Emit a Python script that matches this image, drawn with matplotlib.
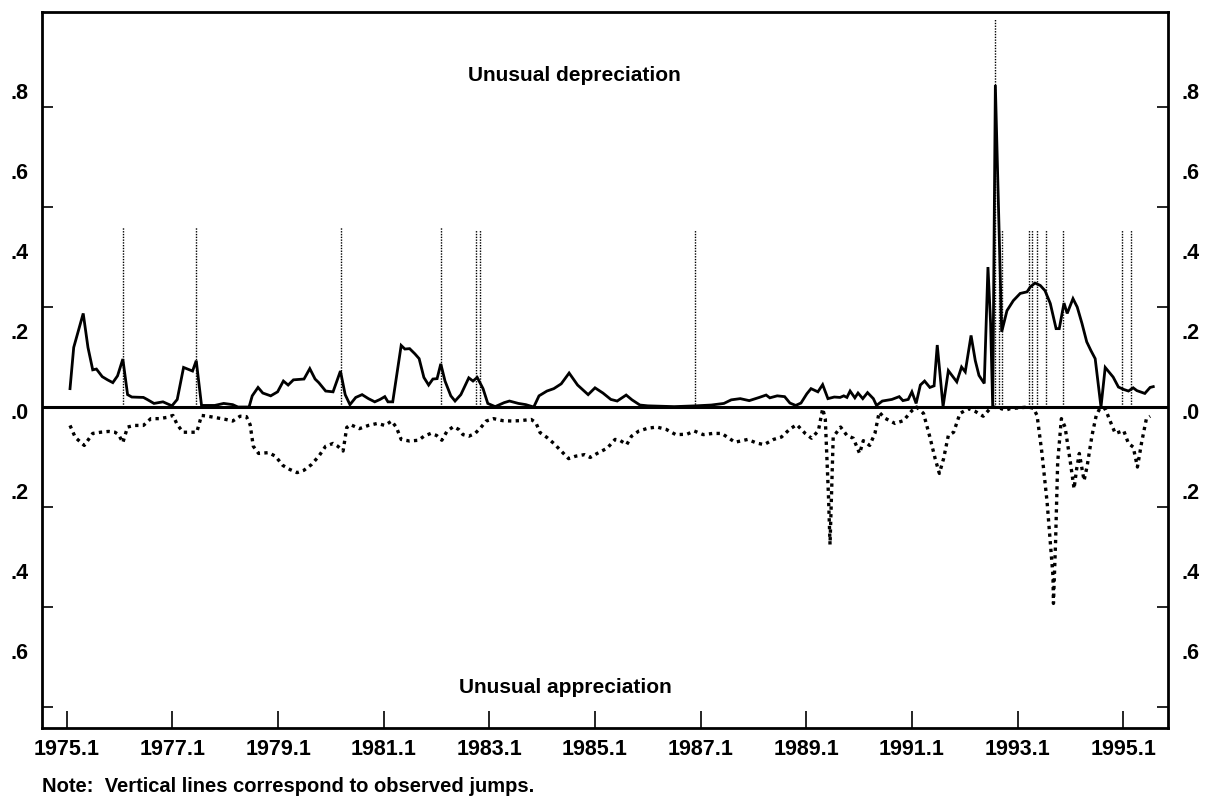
import numpy as np
import matplotlib
matplotlib.use("Agg")
import matplotlib.pyplot as plt
from matplotlib.transforms import ScaledTranslation

plt.rcParams['font.family'] = ['Liberation Sans', 'DejaVu Sans']

# probability of unusual depreciation (solid), decimal year / value
dep_t = [1975.06, 1975.13, 1975.31, 1975.40, 1975.49, 1975.56, 1975.67, 1975.77, 1975.87, 1975.96,
         1976.06, 1976.15, 1976.23, 1976.45, 1976.52, 1976.65, 1976.82, 1976.99, 1977.09, 1977.21,
         1977.38, 1977.45, 1977.55, 1977.80, 1977.97, 1978.14, 1978.24, 1978.45, 1978.51, 1978.62,
         1978.71, 1978.86, 1978.99, 1979.10, 1979.19, 1979.29, 1979.49, 1979.60, 1979.70, 1979.77,
         1979.90, 1980.04, 1980.18, 1980.27, 1980.36, 1980.47, 1980.59, 1980.71, 1980.83, 1980.93,
         1981.02, 1981.08, 1981.17, 1981.33, 1981.40, 1981.49, 1981.59, 1981.67, 1981.76, 1981.85,
         1981.93, 1982.01, 1982.08, 1982.16, 1982.27, 1982.35, 1982.46, 1982.61, 1982.69, 1982.77,
         1982.88, 1982.97, 1983.11, 1983.28, 1983.38, 1983.55, 1983.69, 1983.84, 1983.94, 1984.09,
         1984.22, 1984.36, 1984.51, 1984.67, 1984.87, 1985.00, 1985.15, 1985.30, 1985.42, 1985.59,
         1985.70, 1985.85, 1986.00, 1986.50, 1986.91, 1987.20, 1987.44, 1987.58, 1987.75, 1987.92,
         1988.11, 1988.24, 1988.31, 1988.45, 1988.59, 1988.69, 1988.80, 1988.90, 1989.01, 1989.09,
         1989.22, 1989.31, 1989.41, 1989.53, 1989.64, 1989.71, 1989.77, 1989.83, 1989.92, 1989.98,
         1990.07, 1990.16, 1990.27, 1990.33, 1990.44, 1990.62, 1990.76, 1990.83, 1990.93, 1991.00,
         1991.08, 1991.16, 1991.24, 1991.34, 1991.42, 1991.48, 1991.59, 1991.69, 1991.78, 1991.85,
         1991.94, 1992.01, 1992.12, 1992.20, 1992.27, 1992.37, 1992.44, 1992.49, 1992.53, 1992.58,
         1992.70, 1992.80, 1992.92, 1993.05, 1993.18, 1993.24, 1993.33, 1993.43, 1993.52, 1993.62,
         1993.73, 1993.79, 1993.88, 1993.94, 1994.05, 1994.13, 1994.22, 1994.31, 1994.39, 1994.47,
         1994.58, 1994.66, 1994.81, 1994.91, 1995.01, 1995.10, 1995.19, 1995.26, 1995.41, 1995.51,
         1995.57]
dep_v = [0.046, 0.149, 0.234, 0.149, 0.093, 0.095, 0.076, 0.068, 0.061, 0.078,
         0.120, 0.031, 0.025, 0.024, 0.019, 0.009, 0.013, 0.003, 0.019, 0.099,
         0.090, 0.116, 0.004, 0.004, 0.009, 0.006, 0.0, 0.0, 0.028, 0.049,
         0.035, 0.028, 0.038, 0.065, 0.055, 0.068, 0.070, 0.096, 0.070, 0.061,
         0.040, 0.038, 0.090, 0.031, 0.006, 0.024, 0.031, 0.021, 0.013, 0.019,
         0.026, 0.013, 0.013, 0.154, 0.145, 0.146, 0.133, 0.121, 0.074, 0.055,
         0.070, 0.071, 0.108, 0.065, 0.028, 0.015, 0.031, 0.073, 0.065, 0.074,
         0.046, 0.009, 0.001, 0.011, 0.015, 0.009, 0.006, 0.0, 0.028, 0.040,
         0.046, 0.058, 0.085, 0.055, 0.031, 0.048, 0.035, 0.019, 0.015, 0.030,
         0.018, 0.005, 0.003, 0.001, 0.003, 0.005, 0.009, 0.018, 0.021, 0.016,
         0.024, 0.030, 0.023, 0.028, 0.026, 0.010, 0.004, 0.010, 0.033, 0.046,
         0.038, 0.056, 0.021, 0.025, 0.024, 0.028, 0.024, 0.040, 0.023, 0.035,
         0.021, 0.036, 0.021, 0.004, 0.015, 0.019, 0.026, 0.016, 0.019, 0.038,
         0.009, 0.055, 0.065, 0.049, 0.053, 0.155, 0.001, 0.091, 0.075, 0.063,
         0.100, 0.088, 0.179, 0.116, 0.079, 0.059, 0.350, 0.209, 0.0, 0.805,
         0.188, 0.241, 0.266, 0.284, 0.288, 0.300, 0.310, 0.304, 0.291, 0.259,
         0.196, 0.196, 0.260, 0.234, 0.271, 0.250, 0.209, 0.163, 0.141, 0.121,
         0.0, 0.099, 0.075, 0.050, 0.044, 0.040, 0.048, 0.041, 0.034, 0.049,
         0.051]

# probability of unusual appreciation (dotted, drawn below zero)
app_t = [1975.06, 1975.16, 1975.33, 1975.49, 1975.64, 1975.79, 1975.91, 1975.98, 1976.06, 1976.15,
         1976.28, 1976.45, 1976.59, 1976.75, 1976.89, 1977.01, 1977.09, 1977.20, 1977.33, 1977.46,
         1977.55, 1977.67, 1977.80, 1978.01, 1978.14, 1978.28, 1978.40, 1978.47, 1978.53, 1978.63,
         1978.82, 1978.95, 1979.09, 1979.22, 1979.36, 1979.49, 1979.63, 1979.77, 1979.90, 1980.04,
         1980.13, 1980.23, 1980.30, 1980.37, 1980.54, 1980.71, 1980.88, 1981.02, 1981.15, 1981.24,
         1981.33, 1981.49, 1981.66, 1981.76, 1981.89, 1982.00, 1982.10, 1982.20, 1982.32, 1982.42,
         1982.50, 1982.61, 1982.73, 1982.84, 1982.94, 1983.08, 1983.25, 1983.42, 1983.59, 1983.79,
         1983.88, 1983.96, 1984.09, 1984.22, 1984.36, 1984.50, 1984.63, 1984.80, 1984.91, 1985.04,
         1985.23, 1985.38, 1985.47, 1985.60, 1985.69, 1985.83, 1986.00, 1986.17, 1986.35, 1986.53,
         1986.74, 1986.88, 1987.05, 1987.23, 1987.40, 1987.65, 1987.89, 1988.06, 1988.20, 1988.38,
         1988.53, 1988.69, 1988.82, 1988.98, 1989.10, 1989.23, 1989.31, 1989.36, 1989.42, 1989.45,
         1989.51, 1989.65, 1989.77, 1989.89, 1990.01, 1990.08, 1990.20, 1990.30, 1990.38, 1990.49,
         1990.68, 1990.84, 1991.00, 1991.09, 1991.22, 1991.34, 1991.44, 1991.52, 1991.60, 1991.69,
         1991.79, 1991.91, 1992.07, 1992.20, 1992.35, 1992.48, 1992.54, 1992.67, 1992.77, 1992.86,
         1992.95, 1993.20, 1993.30, 1993.37, 1993.46, 1993.56, 1993.63, 1993.67, 1993.68, 1993.72,
         1993.76, 1993.83, 1993.90, 1994.00, 1994.07, 1994.12, 1994.17, 1994.22, 1994.26, 1994.32,
         1994.41, 1994.49, 1994.56, 1994.66, 1994.75, 1994.85, 1995.01, 1995.10, 1995.19, 1995.27,
         1995.35, 1995.44, 1995.51]
app_v = [-0.046, -0.076, -0.096, -0.066, -0.063, -0.061, -0.063, -0.069, -0.089, -0.050,
         -0.046, -0.046, -0.029, -0.029, -0.026, -0.021, -0.044, -0.063, -0.063, -0.063,
         -0.021, -0.023, -0.026, -0.031, -0.035, -0.023, -0.024, -0.044, -0.098, -0.116,
         -0.114, -0.123, -0.146, -0.156, -0.164, -0.158, -0.144, -0.123, -0.098, -0.091,
         -0.098, -0.110, -0.051, -0.044, -0.054, -0.046, -0.041, -0.046, -0.035, -0.051,
         -0.081, -0.085, -0.083, -0.073, -0.066, -0.071, -0.083, -0.060, -0.049, -0.056,
         -0.069, -0.073, -0.066, -0.051, -0.035, -0.029, -0.034, -0.035, -0.034, -0.031,
         -0.039, -0.064, -0.076, -0.091, -0.110, -0.129, -0.123, -0.119, -0.126, -0.116,
         -0.103, -0.081, -0.083, -0.094, -0.073, -0.060, -0.053, -0.050, -0.056, -0.069,
         -0.068, -0.060, -0.069, -0.066, -0.066, -0.088, -0.081, -0.090, -0.094, -0.081,
         -0.075, -0.055, -0.044, -0.066, -0.078, -0.059, -0.004, -0.029, -0.221, -0.344,
         -0.075, -0.050, -0.071, -0.078, -0.116, -0.084, -0.096, -0.066, -0.013, -0.028,
         -0.041, -0.034, -0.009, 0.0, -0.016, -0.075, -0.129, -0.166, -0.129, -0.071,
         -0.063, -0.016, -0.004, -0.011, -0.023, -0.004, 0.0, -0.003, -0.008, -0.004,
         -0.003, 0.0, -0.003, -0.021, -0.113, -0.238, -0.354, -0.421, -0.491, -0.338,
         -0.138, -0.029, -0.050, -0.138, -0.204, -0.154, -0.116, -0.154, -0.184, -0.146,
         -0.071, -0.021, -0.003, -0.004, -0.034, -0.066, -0.059, -0.091, -0.100, -0.150,
         -0.088, -0.029, -0.023]

# observed jumps (vertical dotted lines)
jump_t = [1976.06, 1977.44, 1980.19, 1982.08, 1982.75, 1982.82, 1986.90, 1992.58, 1992.65,
          1992.70, 1993.21, 1993.28, 1993.37, 1993.54, 1993.87, 1994.97, 1995.15]
jump_h = [0.45, 0.45, 0.45, 0.45, 0.443, 0.443, 0.443, 0.97, 0.443,
          0.443, 0.443, 0.443, 0.443, 0.443, 0.443, 0.443, 0.443]

tick_years = list(range(1975, 1996, 2))
tick_labels = [f"{y}.1" for y in tick_years]
ylab_vals = [-0.6, -0.4, -0.2, 0.0, 0.2, 0.4, 0.6, 0.8]
ylab_text = [".6", ".4", ".2", ".0", ".2", ".4", ".6", ".8"]

fig = plt.figure(figsize=(12.18, 8.09), dpi=100)
ax = fig.add_axes([0.0345, 0.1001, 0.9245, 0.885])

ax.vlines(jump_t, 0, jump_h, colors='black', linestyles=(0, (1, 1)), linewidth=1.0)
ax.plot(dep_t, dep_v, color='black', linewidth=2.0, solid_joinstyle='miter')
ax.plot(app_t, app_v, color='black', linewidth=2.4, linestyle=(0, (1, 1.3)))
ax.axhline(0, color='black', linewidth=2.2)

ax.set_xlim(1974.53, 1995.85)
ax.set_ylim(-0.8025, 0.9875)

ax.set_xticks(tick_years)
ax.set_xticklabels(tick_labels)
ax.tick_params(axis='x', direction='in', length=12, width=1.2, pad=8,
               labelsize=15.5)

ax.set_yticks(ylab_vals)
ax.set_yticklabels(ylab_text)
ax.set_yticks([-0.75, -0.5, -0.25, 0.25, 0.5, 0.75], minor=True)
ax.tick_params(axis='y', which='major', length=0, pad=10, labelsize=15.5,
               left=True, right=True, labelleft=True, labelright=True)
ax.tick_params(axis='y', which='minor', direction='in', length=8, width=1.2,
               left=True, right=True)
for lab in ax.get_xticklabels() + ax.get_yticklabels():
    lab.set_fontweight('bold')
# the printed scale labels sit a little below their positions
off = ScaledTranslation(0, -4 / 100, fig.dpi_scale_trans)
for lab in ax.get_yticklabels():
    lab.set_transform(lab.get_transform() + off)

for sp in ax.spines.values():
    sp.set_linewidth(2)

ax.text(0.473, 0.912, "Unusual depreciation", transform=ax.transAxes,
        ha='center', va='center', fontsize=15, fontweight='bold')
ax.text(0.4645, 0.056, "Unusual appreciation", transform=ax.transAxes,
        ha='center', va='center', fontsize=15, fontweight='bold')
fig.text(0.0345, 0.028, "Note:  Vertical lines correspond to observed jumps.",
         ha='left', va='center', fontsize=14.5, fontweight='bold')

fig.savefig("out.png", dpi=100)
